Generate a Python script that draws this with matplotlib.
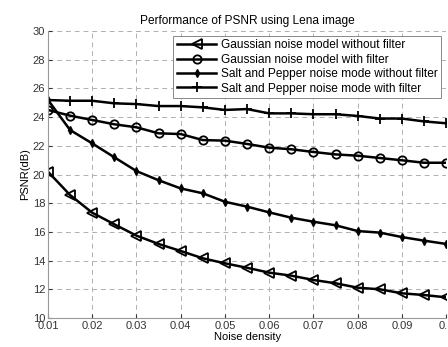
import numpy as np
import matplotlib
matplotlib.use("Agg")
import matplotlib.pyplot as plt

plt.rcParams['font.family'] = ['Liberation Sans', 'DejaVu Sans']

# данные
noise_density = [0.01, 0.015, 0.02, 0.025, 0.03, 0.035, 0.04, 0.045, 0.05, 0.055,
                 0.06, 0.065, 0.07, 0.075, 0.08, 0.085, 0.09, 0.095, 0.1]
gauss_no_filter = [20.2, 18.57, 17.34, 16.53, 15.74, 15.16, 14.67, 14.16, 13.81, 13.5,
                   13.16, 12.95, 12.65, 12.42, 12.11, 12.0, 11.72, 11.6, 11.44]
gauss_filter = [24.5, 24.1, 23.8, 23.5, 23.29, 22.87, 22.82, 22.4, 22.36, 22.13,
                21.87, 21.76, 21.57, 21.4, 21.31, 21.15, 20.99, 20.82, 20.82]
sp_no_filter = [25.2, 23.1, 22.17, 21.2, 20.24, 19.6, 19.03, 18.69, 18.1, 17.76,
                17.36, 16.99, 16.71, 16.46, 16.06, 15.95, 15.64, 15.39, 15.16]
sp_filter = [25.19, 25.14, 25.14, 24.96, 24.91, 24.77, 24.77, 24.68, 24.5, 24.56,
             24.26, 24.26, 24.2, 24.2, 24.08, 23.9, 23.9, 23.7, 23.57]
labels = ["Gaussian noise model without filter",
          "Gaussian noise model with filter",
          "Salt and Pepper noise mode without filter",
          "Salt and Pepper noise mode with filter"]

fig = plt.figure(figsize=(4.48, 3.47), dpi=100)
ax = fig.add_axes([0.107, 0.0836, 0.889, 0.827])

ax.plot(noise_density, gauss_no_filter, color="black", lw=1.8, marker="<",
        ms=7, mfc="none", mew=1.3, label=labels[0])
ax.plot(noise_density, gauss_filter, color="black", lw=1.8, marker="o",
        ms=6, mfc="none", mew=1.3, label=labels[1])
ax.plot(noise_density, sp_no_filter, color="black", lw=1.8, marker="d",
        ms=4, label=labels[2])
ax.plot(noise_density, sp_filter, color="black", lw=1.8, marker="+",
        ms=7, mew=1.3, label=labels[3])

ax.set_xlim(0.01, 0.1)
ax.set_ylim(10, 30)
ax.set_xticks(np.arange(0.01, 0.101, 0.01))
ax.set_xticklabels(["0.01", "0.02", "0.03", "0.04", "0.05", "0.06", "0.07",
                    "0.08", "0.09", "0.1"])
ax.set_yticks(range(10, 31, 2))
ax.tick_params(direction="in", labelsize=8, colors="#333333", length=3, pad=2)
ax.grid(True, linestyle=(0, (5, 4)), color="#b0b0b0", lw=0.7)
for s in ["top", "right"]:
    ax.spines[s].set_visible(False)
for s in ["left", "bottom"]:
    ax.spines[s].set_color("#999999")

ax.set_title("Performance of PSNR using Lena image", fontsize=8.6, pad=5)
ax.set_xlabel("Noise density", fontsize=8, labelpad=1)
ax.set_ylabel("PSNR(dB)", fontsize=8, labelpad=2)

leg = ax.legend(loc="upper right", fontsize=8.6, fancybox=False, framealpha=1,
                edgecolor="#888888", borderaxespad=0.4, handlelength=3.3,
                labelspacing=0.2, borderpad=0.3, handletextpad=0.4)
leg.get_frame().set_linewidth(0.7)

fig.savefig("out.png", dpi=100)
